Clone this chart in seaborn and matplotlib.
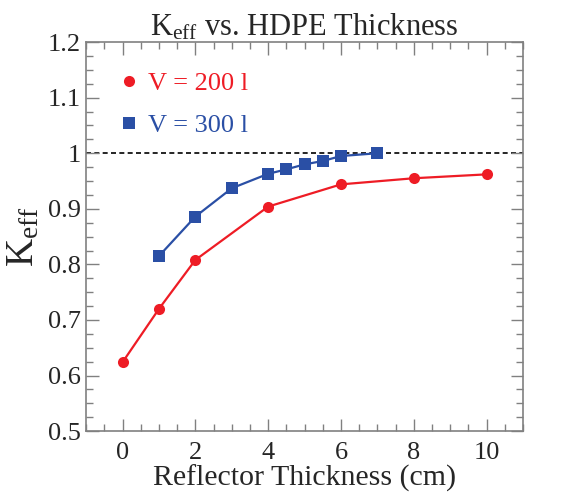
import pandas as pd
import seaborn as sns
import matplotlib.pyplot as plt
from matplotlib.lines import Line2D
from matplotlib.ticker import MultipleLocator

# data
x_200 = [0, 1, 2, 4, 6, 8, 10]
k_200 = [0.624, 0.720, 0.808, 0.904, 0.944, 0.955, 0.962]
x_300 = [1, 2, 3, 4, 4.5, 5, 5.5, 6, 7]
k_300 = [0.815, 0.886, 0.937, 0.963, 0.971, 0.980, 0.986, 0.995, 1.0]
labels = ["V = 200 l", "V = 300 l"]
colors = ["#ee1c25", "#2a4fa5"]
markers = ["o", "s"]

df = pd.concat([
    pd.DataFrame({"x": x_200, "k": k_200, "V": labels[0]}),
    pd.DataFrame({"x": x_300, "k": k_300, "V": labels[1]}),
])

sns.set_style("ticks")
plt.rcParams["font.family"] = ["Liberation Serif", "DejaVu Serif"]
plt.rcParams["mathtext.fontset"] = "custom"
plt.rcParams["mathtext.rm"] = "Liberation Serif"
plt.rcParams["mathtext.it"] = "Liberation Serif:italic"

fig = plt.figure(figsize=(5.63, 4.95), dpi=100)
ax = fig.add_axes([0.153, 0.129, 0.776, 0.786])

sns.lineplot(data=df, x="x", y="k", hue="V", style="V",
             palette=dict(zip(labels, colors)),
             markers=dict(zip(labels, markers)), dashes=False,
             markersize=8, markeredgewidth=0, linewidth=1.6,
             legend=False, ax=ax)

ax.axhline(1.0, color="black", linestyle=(0, (3, 2)), linewidth=1.2, zorder=0)

ax.set_xlim(-1, 11)
ax.set_ylim(0.5, 1.2)
ax.xaxis.set_major_locator(MultipleLocator(2))
ax.xaxis.set_minor_locator(MultipleLocator(0.5))
ax.yaxis.set_major_locator(MultipleLocator(0.1))
ax.yaxis.set_minor_locator(MultipleLocator(0.025))
ax.yaxis.set_major_formatter(plt.FuncFormatter(lambda v, p: f"{v:g}"))
ax.tick_params(which="both", direction="in", top=True, right=True,
               color="#808080", labelsize=19)
ax.tick_params(which="major", length=9, width=1)
ax.tick_params(which="minor", length=5, width=1)
ax.tick_params(axis="x", pad=8)
for s in ax.spines.values():
    s.set_color("#808080")
    s.set_linewidth(1.2)

ax.set_xlabel("Reflector Thickness (cm)", fontsize=21.5, labelpad=0)
ax.set_ylabel(r"K$_{\mathrm{eff}}$", fontsize=28, labelpad=4)
ax.set_title(r"K$_{\mathrm{eff}}$ vs. HDPE Thickness", fontsize=22, pad=4)

handles = [Line2D([], [], color=c, marker=m, linestyle="none", markersize=8,
                  markeredgewidth=0) for c, m in zip(colors, markers)]
ax.legend(handles, labels, loc="upper left", bbox_to_anchor=(0.02, 0.985),
          frameon=False, fontsize=19, labelcolor=colors, handlelength=0.8,
          handletextpad=0.3, labelspacing=0.7)

fig.savefig("out.png", dpi=100)
